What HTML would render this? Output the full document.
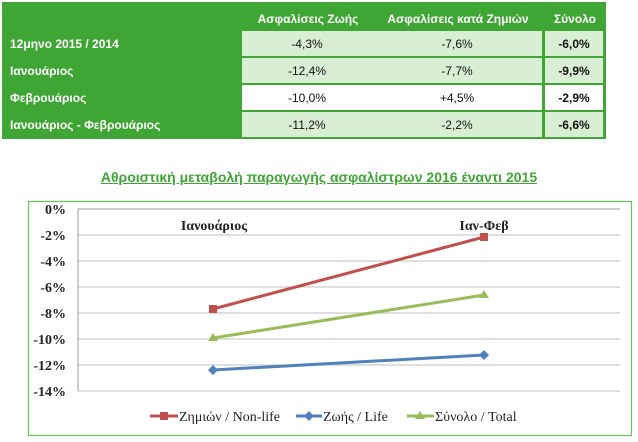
<!DOCTYPE html><html><head><meta charset="utf-8"><style>
body{margin:0;width:638px;height:442px;background:#fff;overflow:hidden;font-family:"Liberation Sans","Noto Sans CJK SC",sans-serif}
.tb{position:absolute;left:2px;top:2px;width:604px;height:137px;background:#3fa535}
.c{position:absolute;font-size:12px;line-height:26px;height:25px}
.h{color:#fff;font-weight:bold;text-align:center;top:4px}
.l{color:#fff;font-weight:bold;left:10px}
.v{background:#d8efd3;text-align:center;color:#111}
</style></head><body>
<div class="tb"></div>
<div class="c h" style="left:243px;width:130px;top:6px">Ασφαλίσεις Ζωής</div>
<div class="c h" style="left:373px;width:170px;top:6px">Ασφαλίσεις κατά Ζημιών</div>
<div class="c h" style="left:545px;width:60px;top:6px">Σύνολο</div>

<div class="c l" style="top:31px">12μηνο 2015 / 2014</div>
<div class="c v" style="left:242px;top:31px;width:300px"><span style="position:absolute;left:0;width:130px">-4,3%</span><span style="position:absolute;left:130px;width:170px">-7,6%</span></div>
<div class="c v" style="left:545px;top:31px;width:58px;font-weight:bold">-6,0%</div>

<div class="c l" style="top:58px">Ιανουάριος</div>
<div class="c v" style="left:242px;top:58px;width:300px"><span style="position:absolute;left:0;width:130px">-12,4%</span><span style="position:absolute;left:130px;width:170px">-7,7%</span></div>
<div class="c v" style="left:545px;top:58px;width:58px;font-weight:bold">-9,9%</div>

<div class="c l" style="top:85px">Φεβρουάριος</div>
<div class="c v" style="left:242px;top:85px;width:300px;background:#fff"><span style="position:absolute;left:0;width:130px">-10,0%</span><span style="position:absolute;left:130px;width:170px">+4,5%</span></div>
<div class="c v" style="left:545px;top:85px;width:58px;font-weight:bold;background:#fff">-2,9%</div>

<div class="c l" style="top:112px">Ιανουάριος - Φεβρουάριος</div>
<div class="c v" style="left:242px;top:112px;width:300px"><span style="position:absolute;left:0;width:130px">-11,2%</span><span style="position:absolute;left:130px;width:170px">-2,2%</span></div>
<div class="c v" style="left:545px;top:112px;width:58px;font-weight:bold">-6,6%</div>

<div style="position:absolute;left:0;width:638px;top:169px;text-align:center;color:#3fa535;font-weight:bold;font-size:14px;text-decoration:underline">Αθροιστική μεταβολή παραγωγής ασφαλίστρων 2016 έναντι 2015</div>

<svg style="position:absolute;left:0;top:0" width="638" height="442">
<rect x="28.5" y="201.5" width="603" height="234" fill="none" stroke="#6cc05e" stroke-width="1.2"/>
<g stroke="#ccc" stroke-width="1.2">
<line x1="78" x2="620" y1="235" y2="235"/><line x1="78" x2="620" y1="261" y2="261"/>
<line x1="78" x2="620" y1="287" y2="287"/><line x1="78" x2="620" y1="313" y2="313"/>
<line x1="78" x2="620" y1="339" y2="339"/><line x1="78" x2="620" y1="365" y2="365"/><line x1="78" x2="620" y1="391" y2="391"/>
</g>
<line x1="78" y1="209" x2="78" y2="391" stroke="#999"/>
<line x1="78" y1="209" x2="620" y2="209" stroke="#999"/>
<g style="font-family:'Liberation Serif',serif;font-weight:bold;font-size:14px" text-anchor="end" fill="#222">
<text x="66" y="214">0%</text><text x="66" y="240">-2%</text><text x="66" y="266">-4%</text><text x="66" y="292">-6%</text>
<text x="66" y="318">-8%</text><text x="66" y="344">-10%</text><text x="66" y="370">-12%</text><text x="66" y="396">-14%</text>
<text x="214" y="230" text-anchor="middle">Ιανουάριος</text><text x="484" y="230" text-anchor="middle">Ιαν-Φεβ</text>
</g>
<polyline points="213,309 484,237" stroke="#c0504d" stroke-width="3" fill="none"/>
<rect x="209" y="305" width="8" height="8" fill="#c0504d"/><rect x="480" y="233" width="8" height="8" fill="#c0504d"/>
<polyline points="213,338 484,295" stroke="#9bbb59" stroke-width="3" fill="none"/>
<path d="M213 333l5 8h-10z M484 290l5 8h-10z" fill="#9bbb59"/>
<polyline points="213,370 484,355" stroke="#4f81bd" stroke-width="3" fill="none"/>
<path d="M213 365l5 5-5 5-5-5z M484 350l5 5-5 5-5-5z" fill="#4f81bd"/>
<g style="font-family:'Liberation Serif',serif;font-size:14px" fill="#222">
<line x1="150" x2="178" y1="416" y2="416" stroke="#c0504d" stroke-width="3"/><rect x="160" y="412" width="8" height="8" fill="#c0504d"/>
<text x="179" y="421">Ζημιών / Non-life</text>
<line x1="296" x2="322" y1="416" y2="416" stroke="#4f81bd" stroke-width="3"/><path d="M309 411l5 5-5 5-5-5z" fill="#4f81bd"/>
<text x="323" y="421">Ζωής / Life</text>
<line x1="407" x2="434" y1="416" y2="416" stroke="#9bbb59" stroke-width="3"/><path d="M420 411l5 8h-10z" fill="#9bbb59"/>
<text x="435" y="421">Σύνολο / Total</text>
</g>
</svg>
</body></html>
